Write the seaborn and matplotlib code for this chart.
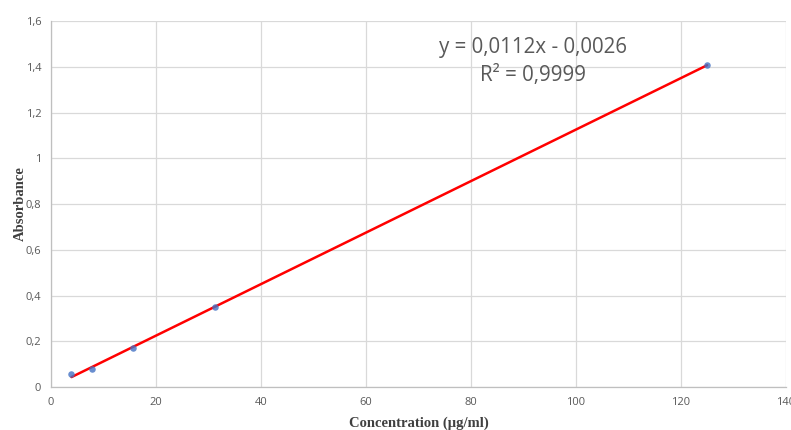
import matplotlib
matplotlib.use("Agg")
import matplotlib.pyplot as plt
import matplotlib.ticker as mticker
import numpy as np
import pandas as pd
import seaborn as sns

# Standard curve data (serial dilution)
concentration = [3.9, 7.8, 15.6, 31.25, 125]
absorbance = [0.057, 0.079, 0.170, 0.350, 1.408]
x_ticks = [0, 20, 40, 60, 80, 100, 120, 140]
y_ticks = [0, 0.2, 0.4, 0.6, 0.8, 1.0, 1.2, 1.4, 1.6]
equation_text = "y = 0,0112x - 0,0026"
r2_text = "R² = 0,9999"

df = pd.DataFrame({"Concentration": concentration, "Absorbance": absorbance})

sns.set_style("white")
plt.rcParams['font.family'] = ['Open Sans', 'DejaVu Sans']

fig = plt.figure(figsize=(7.91, 4.30), dpi=100)
ax = fig.add_axes([0.0645, 0.1, 0.929, 0.851])

grid_c = "#d9d9d9"
sns.regplot(data=df, x="Concentration", y="Absorbance", ci=None, ax=ax,
            scatter_kws=dict(color="#4472C4", s=22, zorder=3, linewidths=0),
            line_kws=dict(color="#ff0000", lw=1.8, zorder=2))

ax.set_xlim(0, 140)
ax.set_ylim(0, 1.6)
ax.set_xticks(x_ticks)
ax.set_yticks(y_ticks)
fmt = mticker.FuncFormatter(lambda v, p: f"{v:g}".replace(".", ","))
ax.xaxis.set_major_formatter(fmt)
ax.yaxis.set_major_formatter(fmt)
ax.grid(True, color=grid_c, lw=0.9)
ax.set_axisbelow(True)
for s in ["top", "right"]:
    ax.spines[s].set_visible(False)
for s in ["left", "bottom"]:
    ax.spines[s].set_color("#bfbfbf")
    ax.spines[s].set_linewidth(0.9)
ax.tick_params(axis="both", length=0, labelsize=8, colors="#595959", pad=7)

ax.set_xlabel("Concentration (µg/ml)", family="Liberation Serif", fontweight="bold",
              fontsize=10.5, color="#404040", labelpad=6)
ax.set_ylabel("Absorbance", family="Liberation Serif", fontweight="bold",
              fontsize=10.5, color="#404040", labelpad=-1)

ax.text(91.8, 1.486, equation_text, ha="center", va="center", fontsize=14.8, color="#595959")
ax.text(91.8, 1.364, r2_text, ha="center", va="center", fontsize=14.8, color="#595959")

fig.savefig("out.png", dpi=100)
